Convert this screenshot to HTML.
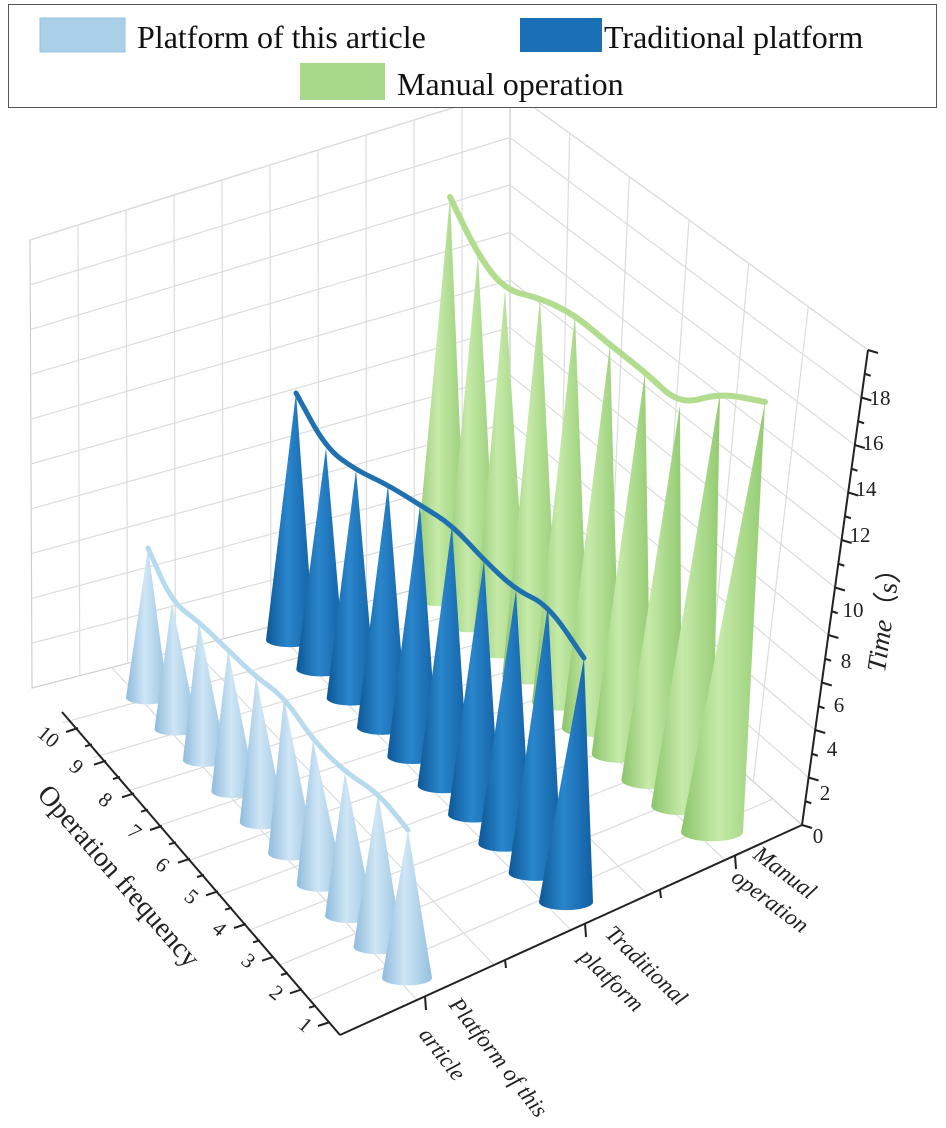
<!DOCTYPE html>
<html><head><meta charset="utf-8"><style>
html,body{margin:0;padding:0;background:#fff;}
svg{display:block;font-family:"Liberation Serif",serif;}
</style></head><body>
<svg id="s" width="946" height="1128" viewBox="0 0 946 1128" xmlns="http://www.w3.org/2000/svg">
<defs>
<linearGradient id="gl" x1="0" x2="1" y1="0" y2="0"><stop offset="0" stop-color="#8fbbdd"/><stop offset="0.45" stop-color="#cfe6f5"/><stop offset="1" stop-color="#94c0e0"/></linearGradient>
<linearGradient id="gd" x1="0" x2="1" y1="0" y2="0"><stop offset="0" stop-color="#0d5796"/><stop offset="0.45" stop-color="#2a86cc"/><stop offset="1" stop-color="#125fa3"/></linearGradient>
<linearGradient id="gg" x1="0" x2="1" y1="0" y2="0"><stop offset="0" stop-color="#8cc46b"/><stop offset="0.45" stop-color="#c6eaa9"/><stop offset="1" stop-color="#93cb72"/></linearGradient>
</defs>
<rect width="946" height="1128" fill="#fff"/>
<g id="grid"></g>
<!-- legend -->
<rect x="8.5" y="4.5" width="928" height="103" fill="#fff" stroke="#555" stroke-width="1"/>
<rect x="40" y="18" width="85" height="34" fill="#a9cfe9" stroke="#9ac3df"/>
<text x="137" y="48" font-size="32" fill="#111">Platform of this article</text>
<rect x="520" y="18" width="82" height="34" fill="#1b6fb5"/>
<text x="604" y="48" font-size="32" fill="#111">Traditional platform</text>
<rect x="300" y="63" width="85" height="37" fill="#a8d98a"/>
<text x="397" y="95" font-size="32" fill="#111">Manual operation</text>
<g id="cones"></g>
<!-- axes -->
<g stroke="#222" stroke-width="2" fill="none">
<line x1="62" y1="712" x2="340" y2="1035"/>
<line x1="340" y1="1035" x2="802" y2="825"/>
<line x1="802" y1="825" x2="868" y2="350"/>
</g>
<g id="ticks" stroke="#222" stroke-width="2"></g>
<g font-size="21" fill="#222" text-anchor="middle">
<text x="818" y="843">0</text>
<text x="825" y="800">2</text>
<text x="832" y="756">4</text>
<text x="839" y="712">6</text>
<text x="846" y="668">8</text>
<text x="853" y="617">10</text>
<text x="860" y="542">12</text>
<text x="866" y="496">14</text>
<text x="873" y="450">16</text>
<text x="880" y="405">18</text>
</g>
<text transform="translate(893,615) rotate(-82)" font-size="27" text-anchor="middle" fill="#222"><tspan font-style="italic">Time</tspan>（s）</text>
<g font-size="21" fill="#222" text-anchor="middle">
<text transform="translate(44,742) rotate(40)">10</text>
<text transform="translate(72,772) rotate(40)">9</text>
<text transform="translate(101,805) rotate(40)">8</text>
<text transform="translate(130,837) rotate(40)">7</text>
<text transform="translate(158,870) rotate(40)">6</text>
<text transform="translate(187,902) rotate(40)">5</text>
<text transform="translate(215,934) rotate(40)">4</text>
<text transform="translate(244,966) rotate(40)">3</text>
<text transform="translate(272,998) rotate(40)">2</text>
<text transform="translate(301,1030) rotate(40)">1</text>
</g>
<text transform="translate(112,882) rotate(49)" font-size="28" text-anchor="middle" fill="#222">Operation frequency</text>
<g font-size="23" fill="#222" font-style="italic">
<text transform="translate(448,1005) rotate(52)">Platform of this</text>
<text transform="translate(418,1035) rotate(52)">article</text>
<text transform="translate(604,935) rotate(44)">Traditional</text>
<text transform="translate(578,958) rotate(44)">platform</text>
<text transform="translate(752,857) rotate(37)">Manual</text>
<text transform="translate(730,880) rotate(37)">operation</text>
</g>
<script>
(function(){
var NS="http://www.w3.org/2000/svg";
function el(p,t,a){var e=document.createElementNS(NS,t);for(var k in a)e.setAttribute(k,a[k]);p.appendChild(e);return e;}
function L(a,b,t){return [a[0]+(b[0]-a[0])*t,a[1]+(b[1]-a[1])*t];}
var g=document.getElementById('grid');
var Lb=[32,688],Lt=[30,240],Bb=[510,565],Bt=[510,90],Rb=[802,825],Rt=[868,350],Fb=[340,1035];
var gs={stroke:"#dcdcdc","stroke-width":1.2,fill:"none"};
el(g,'polygon',{points:[Lb,Lt,Bt,Bb].join(' '),fill:"none",stroke:"#cfcfcf","stroke-width":1.2});
el(g,'polygon',{points:[Bb,Bt,Rt,Rb].join(' '),fill:"none",stroke:"#cfcfcf","stroke-width":1.2});
for(var i=1;i<=10;i++){var t=i/10;
 var a=L(Lb,Lt,t),b=L(Bb,Bt,t),c=L(Rb,Rt,t);
 el(g,'polyline',Object.assign({points:[a,b,c].join(' ')},gs));}
for(var i=1;i<10;i++){var t=i/10;var a=L(Lb,Bb,t),b=L(Lt,Bt,t);el(g,'line',Object.assign({x1:a[0],y1:a[1],x2:b[0],y2:b[1]},gs));}
for(var i=1;i<6;i++){var t=i/6;var a=L(Bb,Rb,t),b=L(Bt,Rt,t);el(g,'line',Object.assign({x1:a[0],y1:a[1],x2:b[0],y2:b[1]},gs));}
for(var i=1;i<10;i++){var t=i/10;var a=L(Fb,Lb,t),b=L(Rb,Bb,t);el(g,'line',Object.assign({x1:a[0],y1:a[1],x2:b[0],y2:b[1]},gs));}
for(var i=1;i<6;i++){var t=i/6;var a=L(Fb,Rb,t),b=L(Lb,Bb,t);el(g,'line',Object.assign({x1:a[0],y1:a[1],x2:b[0],y2:b[1]},gs));}
var tk=document.getElementById('ticks');
for(var i=0;i<=10;i++){var p=L([802,825],[868,350],i/10);el(tk,'line',{x1:p[0],y1:p[1],x2:p[0]+10,y2:p[1]+3});
 if(i<10){var q=L([802,825],[868,350],(i+0.5)/10);el(tk,'line',{x1:q[0],y1:q[1],x2:q[0]+6,y2:q[1]+2});}}
for(var i=0;i<10;i++){var p=L([78,728],[330,1022],i/9);el(tk,'line',{x1:p[0],y1:p[1],x2:p[0]-12,y2:p[1]+4});
 var q=L([78,728],[330,1022],(i+0.5)/9);if(i<9)el(tk,'line',{x1:q[0],y1:q[1],x2:q[0]-7,y2:q[1]+2});}
[[425,996],[585,923],[735,855],[505,960],[660,890]].forEach(function(p,k){el(tk,'line',{x1:p[0],y1:p[1],x2:p[0]+1,y2:p[1]+(k<3?14:8)});});
var cg=document.getElementById('cones');
var rows=[
 {g:'gg',line:'#b2dd8f',lw:6,b0:[440,598],b1:[712,832],r0:27,r1:31,
  tips:[[450,197],[478,255],[505,290],[540,298],[575,315],[610,345],[645,372],[680,405],[720,393],[765,402]]},
 {g:'gd',line:'#1f70af',lw:5,b0:[290,640],b1:[566,902],r0:24,r1:27,
  tips:[[296,393],[326,448],[356,470],[388,485],[420,505],[452,525],[484,560],[516,590],[548,605],[584,658]]},
 {g:'gl',line:'#b8daee',lw:5,b0:[147,698],b1:[407,978],r0:21,r1:25,
  tips:[[148,548],[172,602],[199,622],[228,650],[256,677],[284,697],[313,740],[345,772],[378,793],[408,830]]}
];
rows.forEach(function(r){
 for(var i=0;i<10;i++){var t=i/9;var b=L(r.b0,r.b1,t);var rx=r.r0+(r.r1-r.r0)*t,ry=rx*0.3;var tp=r.tips[i];
  el(cg,'path',{d:"M"+(b[0]-rx)+","+b[1]+" L"+tp[0]+","+tp[1]+" L"+(b[0]+rx)+","+b[1]+" A"+rx+" "+ry+" 0 0 1 "+(b[0]-rx)+","+b[1]+"Z",fill:"url(#"+r.g+")"});}
 var d="M"+r.tips[0].join(",");
 for(var i=1;i<10;i++){var p=r.tips[i-1],q=r.tips[i];var mx=(p[0]+q[0])/2,my=(p[1]+q[1])/2;d+=" Q"+p[0]+","+p[1]+" "+mx+","+my;}
 d+=" L"+r.tips[9].join(",");
 el(cg,'path',{d:d,fill:"none",stroke:r.line,"stroke-width":r.lw,"stroke-linecap":"round","stroke-linejoin":"round"});
});
})();
</script>
</svg>
</body></html>
